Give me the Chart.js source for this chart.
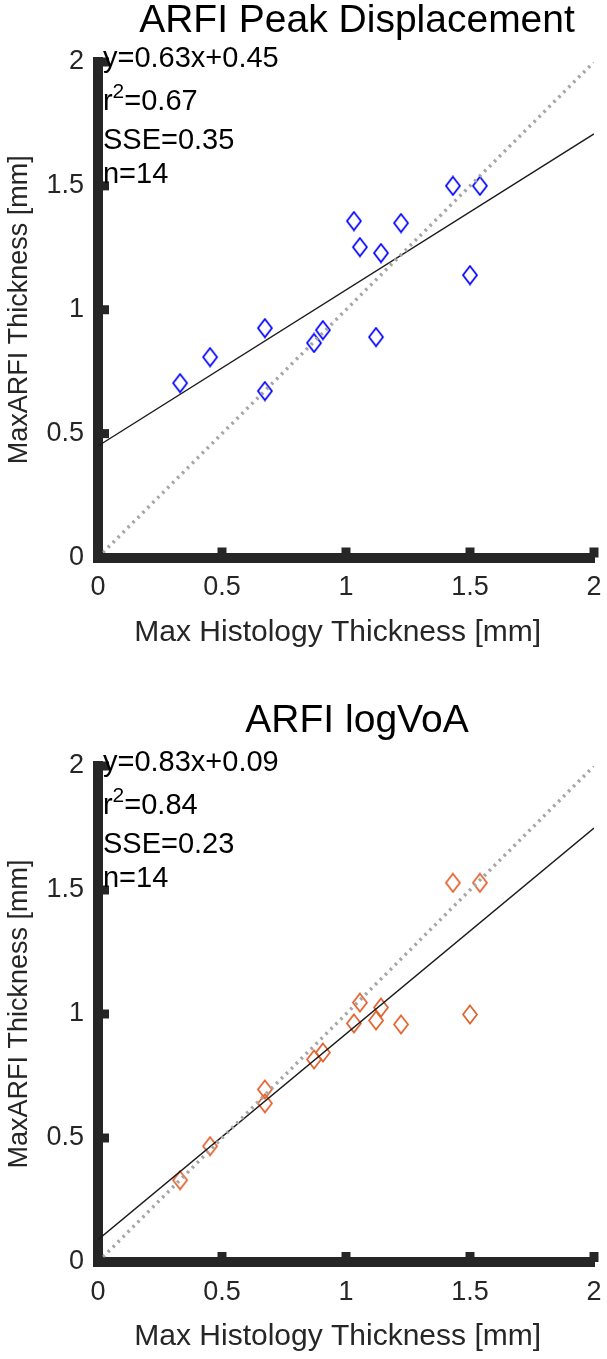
<!DOCTYPE html>
<html>
<head>
<meta charset="utf-8">
<script src="https://cdn.jsdelivr.net/npm/chart.js@4.4.1/dist/chart.umd.min.js"></script>
<style>
  html, body { margin: 0; padding: 0; background: #fff; }
  canvas { display: block; }
</style>
</head>
<body>
<canvas id="peak" width="607" height="680"></canvas>
<canvas id="logvoa" width="607" height="679"></canvas>
<script>
// max histology thickness per sample [mm]
const histology = [0.331, 0.452, 0.673, 0.673, 0.871, 0.907, 1.032, 1.056, 1.121, 1.141, 1.222, 1.431, 1.500, 1.540];
// ARFI thickness estimates [mm]
const peakArfi = [0.704, 0.809, 0.926, 0.672, 0.866, 0.918, 1.358, 1.253, 0.890, 1.229, 1.350, 1.500, 1.140, 1.500];
const logvoaArfi = [0.330, 0.467, 0.696, 0.640, 0.817, 0.845, 0.962, 1.046, 0.974, 1.026, 0.958, 1.529, 0.998, 1.529];

const axisTicks = [0, 0.5, 1, 1.5, 2];
const tickLabels = ['0', '0.5', '1', '1.5', '2'];
const titles = ['ARFI Peak Displacement', 'ARFI logVoA'];
const fitSlope = [0.63, 0.83];
const fitIntercept = [0.45, 0.09];
const fitR2 = ['0.67', '0.84'];
const fitSSE = ['0.35', '0.23'];
// y positions (data units) of the four stats lines
const statsRows = [2.012, 1.84, 1.68, 1.543];

const FONT = "'Liberation Sans', Arial, sans-serif";
const INK = '#262626';

function diamond(color) {
    const c = document.createElement('canvas');
    c.width = 18; c.height = 21;
    const g = c.getContext('2d');
    g.strokeStyle = color;
    g.lineWidth = 1.7;
    g.beginPath();
    g.moveTo(9, 1.5);
    g.lineTo(16, 10.5);
    g.lineTo(9, 19.5);
    g.lineTo(2, 10.5);
    g.closePath();
    g.stroke();
    return c;
}

const axisDecor = {
    id: 'axisDecor',
    afterDraw(chart, args, opts) {
        const {ctx, chartArea: a, scales: {x, y}} = chart;
        ctx.save();
        // MATLAB style inward ticks
        ctx.strokeStyle = INK;
        ctx.lineWidth = 9;
        x.ticks.forEach(t => {
            const px = x.getPixelForValue(t.value);
            ctx.beginPath(); ctx.moveTo(px, a.bottom); ctx.lineTo(px, a.bottom - 10); ctx.stroke();
        });
        y.ticks.forEach(t => {
            const py = y.getPixelForValue(t.value);
            ctx.beginPath(); ctx.moveTo(a.left, py); ctx.lineTo(a.left + 11, py); ctx.stroke();
        });

        const i = opts.index;

        // title, centred a little right of the axes like the original figure
        ctx.fillStyle = '#000';
        ctx.textAlign = 'center';
        ctx.textBaseline = 'alphabetic';
        ctx.font = '39px ' + FONT;
        ctx.fillText(titles[i], (a.left + a.right) / 2 + 11, opts.titleBase);

        // fit statistics
        const lx = x.getPixelForValue(0.02);
        const rows = statsRows.map(v => y.getPixelForValue(v));
        ctx.textAlign = 'left';
        ctx.textBaseline = 'middle';
        ctx.font = '29px ' + FONT;
        ctx.fillText('y=' + fitSlope[i].toFixed(2) + 'x+' + fitIntercept[i].toFixed(2), lx, rows[0]);
        ctx.fillText('r', lx, rows[1]);
        let w = ctx.measureText('r').width;
        ctx.font = '21px ' + FONT;
        ctx.fillText('2', lx + w, rows[1] - 9);
        w += ctx.measureText('2').width;
        ctx.font = '29px ' + FONT;
        ctx.fillText('=' + fitR2[i], lx + w, rows[1]);
        ctx.fillText('SSE=' + fitSSE[i], lx, rows[2]);
        ctx.fillText('n=' + histology.length, lx, rows[3]);
        ctx.restore();
    }
};

function makeChart(id, i, yValues, color, box) {
    const H = box.height;
    const xTitleLH = 30 * 1.2;
    return new Chart(document.getElementById(id), {
        type: 'scatter',
        data: {
            datasets: [
                {
                    type: 'line',
                    data: [{x: 0, y: 0}, {x: 2, y: 2}],
                    borderColor: '#a6a6a6',
                    borderWidth: 3.5,
                    borderDash: [2.5, 4.5],
                    pointRadius: 0,
                    fill: false
                },
                {
                    type: 'line',
                    data: [0, 2].map(v => ({x: v, y: fitSlope[i] * v + fitIntercept[i]})),
                    borderColor: '#1a1a1a',
                    borderWidth: 1.4,
                    pointRadius: 0,
                    fill: false
                },
                {
                    data: histology.map((v, k) => ({x: v, y: yValues[k]})),
                    pointStyle: diamond(color),
                    pointRadius: 9
                }
            ]
        },
        options: {
            responsive: false,
            animation: false,
            events: [],
            layout: { padding: { top: box.top, right: 13, bottom: 0, left: 0 } },
            plugins: {
                legend: { display: false },
                tooltip: { enabled: false },
                title: { display: false },
                axisDecor: { index: i, titleBase: box.titleBase }
            },
            scales: {
                x: {
                    type: 'linear', min: 0, max: 2,
                    afterBuildTicks: s => { s.ticks = axisTicks.map(v => ({value: v})); },
                    afterFit: s => { s.height = H - box.bottom; s.paddingLeft = 0; s.paddingRight = 0; },
                    grid: { display: false, drawTicks: false },
                    border: { display: true, color: INK, width: 10 },
                    ticks: {
                        color: INK, font: { family: FONT, size: 27 }, padding: 14, maxRotation: 0,
                        callback: (v, k) => tickLabels[k]
                    },
                    title: {
                        // trailing spaces nudge the label left, as in the original
                        display: true, text: 'Max Histology Thickness [mm]\u00a0\u00a0', color: INK,
                        font: { family: FONT, size: 30 },
                        padding: { top: 0, bottom: (H - box.bottom) - 75 - xTitleLH / 2 }
                    }
                },
                y: {
                    type: 'linear', min: 0, max: 2,
                    afterBuildTicks: s => { s.ticks = axisTicks.map(v => ({value: v})); },
                    afterFit: s => { s.width = 98; },
                    grid: { display: false, drawTicks: false },
                    border: { display: true, color: INK, width: 10 },
                    ticks: {
                        color: INK, font: { family: FONT, size: 27 }, padding: 14,
                        callback: (v, k) => tickLabels[k]
                    },
                    title: {
                        display: true, text: 'MaxARFI Thickness [mm]', color: INK,
                        font: { family: FONT, size: 27 },
                        padding: { top: 3, bottom: 0 }
                    }
                }
            }
        },
        plugins: [axisDecor]
    });
}

makeChart('peak', 0, peakArfi, '#0000ff', { height: 680, top: 62, bottom: 557.5, titleBase: 32 });
makeChart('logvoa', 1, logvoaArfi, '#e2612c', { height: 679, top: 86, bottom: 582, titleBase: 52 });
</script>
</body>
</html>
